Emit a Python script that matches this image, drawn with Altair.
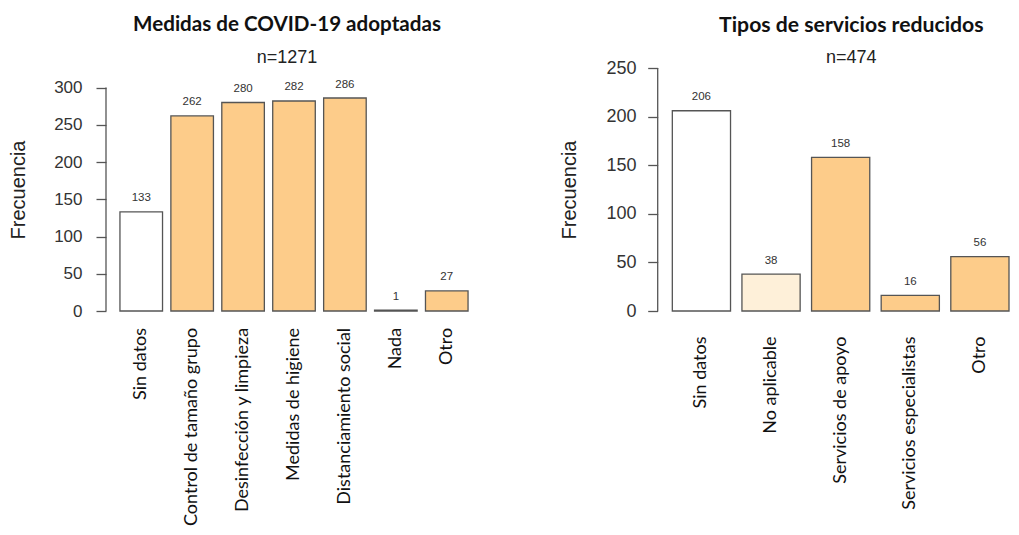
import altair as alt
import pandas as pd

# ---- data ----
cats_left = ["Sin datos", "Control de tamaño grupo", "Desinfección y limpieza",
             "Medidas de higiene", "Distanciamiento social", "Nada", "Otro"]
vals_left = [133, 262, 280, 282, 286, 1, 27]
grp_left = ["sin", "si", "si", "si", "si", "sin", "si"]

cats_right = ["Sin datos", "No aplicable", "Servicios de apoyo",
              "Servicios especialistas", "Otro"]
vals_right = [206, 38, 158, 16, 56]
grp_right = ["sin", "na", "si", "si", "si"]

color_domain = ["sin", "na", "si"]
color_range = ["#FFFFFF", "#FEF0D9", "#FDCC8A"]

left_ticks = [0, 50, 100, 150, 200, 250, 300]
right_ticks = [0, 50, 100, 150, 200, 250]

df_l = pd.DataFrame({"cat": cats_left, "val": vals_left, "grp": grp_left})
df_r = pd.DataFrame({"cat": cats_right, "val": vals_right, "grp": grp_right})

LABEL_FONT = "Lato"
NUM_FONT = "Liberation Sans"


def panel(df, title, sub, ydom, yticks, ymax_line, width, p_outer, align,
          ylab_size, ylab_pad, ytitle_pad, xlab_pad, title_size, title_offset, title_dx):
    xs = alt.X("cat:N", sort=None, title=None,
               scale=alt.Scale(paddingInner=0.164, paddingOuter=p_outer, align=align),
               axis=alt.Axis(labelAngle=-90, ticks=False, domain=False, labelPadding=xlab_pad,
                             labelFont=LABEL_FONT, labelFontSize=18, labelColor="#111",
                             labelLimit=400))
    ys = alt.Y("val:Q", title="Frecuencia",
               scale=alt.Scale(domain=ydom, nice=False, zero=True),
               axis=alt.Axis(values=yticks, grid=False, domain=False, tickSize=10,
                             tickColor="#555", tickWidth=1.3, labelPadding=ylab_pad,
                             labelFont=NUM_FONT, labelFontSize=ylab_size, labelColor="#333",
                             titleFont=NUM_FONT, titleFontSize=20, titleFontWeight="normal",
                             titleColor="#222", titlePadding=ytitle_pad))
    base = alt.Chart(df)
    bars = base.mark_bar(stroke="#555", strokeWidth=1.3).encode(
        x=xs, y=ys,
        fill=alt.Fill("grp:N", scale=alt.Scale(domain=color_domain, range=color_range), legend=None),
    )
    txt = base.mark_text(font=NUM_FONT, fontSize=11.5, color="#333", dy=-13.5,
                         baseline="middle").encode(
        x=alt.X("cat:N", sort=None), y="val:Q", text="val:Q")
    axis_line = alt.Chart(pd.DataFrame({"a": [0]})).mark_rule(color="#555", strokeWidth=1.3).encode(
        x=alt.value(0), y=alt.datum(0), y2=alt.datum(ymax_line))
    return alt.layer(bars, txt, axis_line).properties(
        width=width, height=243,
        title=alt.TitleParams(title, subtitle=sub, font=LABEL_FONT, fontSize=title_size,
                              fontWeight="bold", color="#111", subtitleFont=NUM_FONT,
                              subtitleFontSize=18, subtitleColor="#222", subtitlePadding=13,
                              offset=title_offset, anchor="middle", dx=title_dx),
    )


left = panel(df_l, "Medidas de COVID-19 adoptadas", "n=1271", [0, 326.3], left_ticks, 300,
             376, 0.274, 0.5, 17, 14, 25.6, 16.4, 20.6, 1, -7)
right = panel(df_r, "Tipos de servicios reducidos", "n=474", [0, 250], right_ticks, 250,
              351.3, 0.105, 1.0, 18, 11.7, 26, 25, 21.2, -8, 18)

chart = alt.hconcat(left, right, spacing=175.7, bounds="flush").resolve_scale(
    x="independent", y="independent", fill="shared"
).configure_view(stroke=None).properties(
    padding={"left": 0, "top": 6, "right": 0, "bottom": 0}
)

chart.save("out.html", embed_options={"renderer": "svg", "actions": False})
